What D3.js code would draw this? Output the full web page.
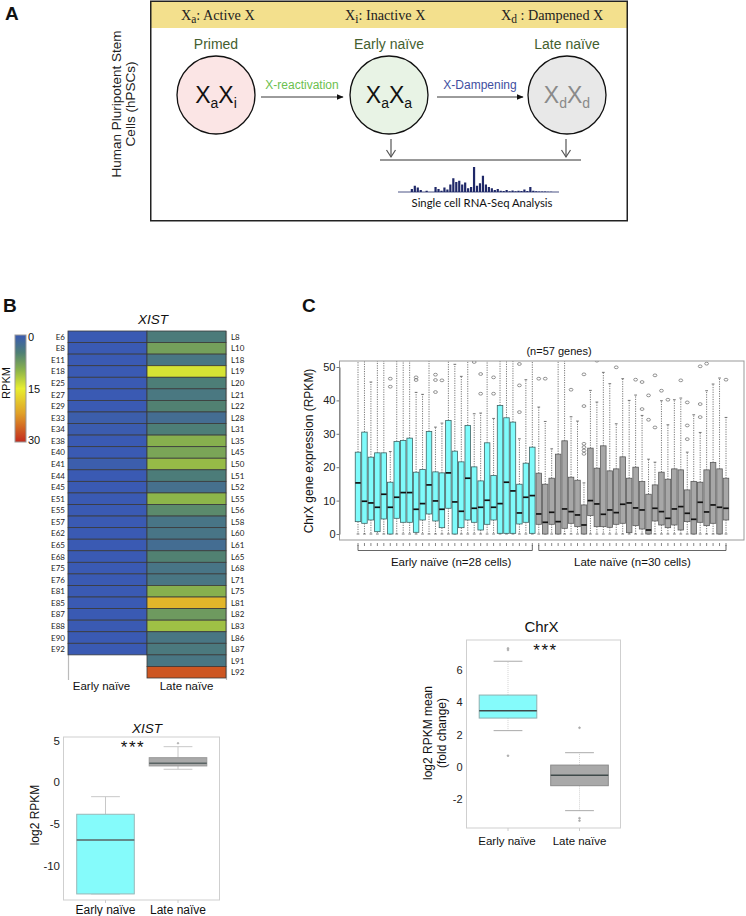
<!DOCTYPE html>
<html><head><meta charset="utf-8">
<script src="https://cdn.jsdelivr.net/npm/d3@7"></script>
<style>body{margin:0;background:#fff}svg{display:block}</style>
</head><body>
<svg id="fig" width="746" height="916" font-family="Liberation Sans, Arial, sans-serif"></svg>
<script>
// ---------------- DATA ----------------
// Panel A
const headerSubs = ["a", "i", "d"];
const headerNames = [": Active X", ": Inactive X", " : Dampened X"];
const stageNames = ["Primed", "Early naïve", "Late naïve"];
const stageSubs = [["a", "i"], ["a", "a"], ["d", "d"]];
const transitionLabels = ["X-reactivation", "X-Dampening"];
const sideLabel = ["Human Pluripotent Stem", "Cells (hPSCs)"];
const peakValues = [0,0,0,0,12,25,18,8,0,5,0,0,20,12,5,18,10,30,55,40,45,30,38,15,20,100,25,35,65,30,20,15,8,12,5,4,8,3,6,3,5,4,10,4,20,5,3,2,2,2,1,1,0,0];

// Panel B heatmap
const earlyCells = ["E6","E8","E11","E18","E25","E27","E29","E33","E34","E38","E40","E41","E44","E45","E51","E55","E57","E62","E65","E68","E75","E76","E81","E85","E87","E88","E90","E92"];
const earlyXIST = [0,0,0,0,0,0,0,0.6,0.3,0,0,0.5,0,0,0,0,0,0,0,0,0,0,0,0,0,0,0,0];
const lateCells = ["L8","L10","L18","L19","L20","L21","L22","L28","L31","L35","L45","L50","L51","L52","L55","L56","L58","L60","L61","L65","L68","L71","L75","L81","L82","L83","L86","L87","L91","L92"];
const lateXIST = [4.5,8,3.8,14,4.8,4,5.2,2.6,4.8,9.5,8.5,10.5,4.6,3,10,6,3.6,3.6,2.6,5.2,3.6,3.8,9.5,20,7.5,11,3.8,4.2,3.8,27];
const colorbarTicks = [0, 15, 30];

// Panel B XIST boxplot
const groups = ["Early naïve", "Late naïve"];
const xistLo = [-13.4, 1.56];
const xistQ1 = [-13.4, 1.96];
const xistMed = [-6.93, 2.28];
const xistQ3 = [-3.84, 2.95];
const xistHi = [-1.73, 4.27];
const xistOut = [[], [4.68]];
const xistTicks = [5, 0, -5, -10];

// Panel C per-cell boxplots (58 cells; 28 early, 30 late)
const chrxQ3 = [24.5,30.5,23,24.3,24.3,15.5,27.7,28,28.7,18.5,19.3,30.7,18.6,18.3,34,24.8,21.6,32.5,20.1,15.9,27.3,17.5,38.5,34.8,33.5,14.9,21.2,26,
                18.2,14.9,16.7,23.9,27.9,17,16.1,8.7,25.7,19.7,26.4,18.9,19.5,23.1,16.7,20,15.7,11.9,14.7,18.5,16.4,19.5,19.2,13.2,15.7,15.5,19.2,21.4,19.5,16.7];
const chrxMed = [15.3,9.8,9.3,8,11.9,8,11,12.4,12.4,7.4,9.1,14.7,9.9,7.4,18.3,9.6,6.8,16.7,7.7,8,10.1,8,9.1,15.5,12.9,6.3,11,11.5,
                 6,3.5,6.5,3.7,7.5,6.7,5.7,2.7,10,9,5.9,7.2,6.4,8.9,9.3,7.8,7.2,1.2,7.7,6.7,4.7,7.5,8.2,6.2,4.4,9.5,6.6,8.7,8,7.7];
const chrxQ1 = [3.7,3.2,4.2,0.7,4.5,0,4.7,3.5,3.5,0.5,4.2,6,3.9,1.9,7.7,0,1.9,4.2,3.5,1.2,2.9,4.2,0.2,0.2,0.2,3,3.5,0.2,
                2.9,0,2.9,0,1.7,3.2,2.2,0,5.5,2.2,2.2,2,2.9,3.2,0.4,2.5,1.5,0,3.9,2.7,1.9,2.7,1.2,3.7,0,3.5,2.5,3.2,0,4.2];
const chrxHi = [52,52,45.5,52,52,24.7,52,52,52,42.4,41.8,52,32,33.2,52,50.8,47.2,52,36,36.2,52,34.6,52,52,52,28.5,46.2,52,
                38,33.7,25.5,52,52,35.1,33.8,15.3,43,39.5,48.4,45,33,46.5,40,41.6,35.5,22.4,21.5,39.9,32.7,40.2,40.7,24.5,35.7,30.4,42.9,44.9,46.7,34.9];
const chrxLo = new Array(58).fill(0);
const chrxOut = [[],[],[],[],[],[46.5,44.1],[],[],[],[46.9,46.1],[],[],[47.7,46.1,42.5],[46],[],[],[],[],[51.5],[47.9,42],[],[46.9,42],[],[],[],[50.9,44.5,36.5],[],[],
                 [46.5],[46.5],[],[],[],[43.2],[],[47.8,38.3,27,26,25,24],[],[51.9],[],[],[49.9],[],[],[46.2],[45.5,37.4],[41.5,34.2],[47.5,31.9],[42.9],[40.2],[],[46],[39.4,32.5,28.4],[],[50.2,38.9,35],[51],[],[],[46.2]];
const chrxTicks = [0, 10, 20, 30, 40, 50];
const cellGroupLabels = ["Early naïve (n=28 cells)", "Late naïve (n=30 cells)"];
const cellGroupCounts = [28, 30];

// Panel C ChrX mean fold-change boxplot
const meanLo = [2.24, -2.73];
const meanQ1 = [3.02, -1.18];
const meanMed = [3.48, -0.53];
const meanQ3 = [4.45, 0.1];
const meanHi = [6.55, 0.87];
const meanOut = [[7.35, 7.25, 0.68], [2.42, -3.2, -3.35]];
const meanTicks = [-2, 0, 2, 4, 6];

// ---------------- DRAWING ----------------
const svg = d3.select("#fig");
svg.append("rect").attr("width", 746).attr("height", 916).attr("fill", "#fff");
const defs = svg.append("defs");
defs.append("marker").attr("id", "arrowHead").attr("viewBox", "0 0 10 10").attr("refX", 9).attr("refY", 5)
  .attr("markerWidth", 7).attr("markerHeight", 7).attr("markerUnits", "userSpaceOnUse").attr("orient", "auto")
  .append("path").attr("d", "M0,1 L10,5 L0,9 Z").attr("fill", "#111");

function panelLetter(t, x, y) {
  svg.append("text").text(t).attr("x", x).attr("y", y).attr("font-size", 19).attr("font-weight", "bold").attr("fill", "#111");
}

// ===== Panel A =====
panelLetter("A", 5, 20);
const gA = svg.append("g");
gA.append("rect").attr("x", 151).attr("y", 2).attr("width", 476).attr("height", 26).attr("fill", "#f3e08d");
gA.append("rect").attr("x", 150.75).attr("y", 1.25).attr("width", 476.5).attr("height", 219.5)
  .attr("fill", "none").attr("stroke", "#222").attr("stroke-width", 1.5);
const headerX = [181, 345, 501];
headerSubs.forEach((s, i) => {
  const t = gA.append("text").attr("x", headerX[i]).attr("y", 20).attr("font-size", 14.2)
    .attr("font-family", "Liberation Serif, DejaVu Serif, serif").attr("fill", "#222");
  t.append("tspan").text("X");
  t.append("tspan").text(s).attr("dy", 3).attr("font-size", 11.5);
  t.append("tspan").text(headerNames[i]).attr("dy", -3);
});
const stageX = [216, 389, 567], stageY = 95, stageR = 39;
const stageFill = ["#fbe5e5", "#e8f3e5", "#e8e8e8"];
const stageTextCol = ["#111", "#111", "#8a8a8a"];
stageNames.forEach((n, i) => {
  gA.append("text").text(n).attr("x", stageX[i]).attr("y", 49).attr("text-anchor", "middle")
    .attr("font-size", 14).attr("fill", "#44602f");
  gA.append("circle").attr("cx", stageX[i]).attr("cy", stageY).attr("r", stageR)
    .attr("fill", stageFill[i]).attr("stroke", "#111").attr("stroke-width", 1.3);
  const t = gA.append("text").attr("x", stageX[i]).attr("y", 103).attr("text-anchor", "middle")
    .attr("font-size", 23).attr("fill", stageTextCol[i]);
  t.append("tspan").text("X");
  t.append("tspan").text(stageSubs[i][0]).attr("dy", 5).attr("font-size", 14);
  t.append("tspan").text("X").attr("dy", -5);
  t.append("tspan").text(stageSubs[i][1]).attr("dy", 5).attr("font-size", 14);
});
const arrowX = [[261, 343], [437, 523]];
const arrowCol = ["#6cbf4f", "#3f4f9f"];
transitionLabels.forEach((l, i) => {
  gA.append("line").attr("x1", arrowX[i][0]).attr("x2", arrowX[i][1]).attr("y1", 97).attr("y2", 97)
    .attr("stroke", "#222").attr("stroke-width", 0.9).attr("marker-end", "url(#arrowHead)");
  gA.append("text").text(l).attr("x", (arrowX[i][0] + arrowX[i][1]) / 2).attr("y", 89)
    .attr("text-anchor", "middle").attr("font-size", 12).attr("fill", arrowCol[i]);
});
[391, 566].forEach(x => {
  gA.append("line").attr("x1", x).attr("x2", x).attr("y1", 139).attr("y2", 157).attr("stroke", "#555").attr("stroke-width", 1.2);
  gA.append("path").attr("d", `M${x - 4.5},${150} L${x},${157} L${x + 4.5},${150}`).attr("fill", "none").attr("stroke", "#555").attr("stroke-width", 1.2);
});
gA.append("line").attr("x1", 380).attr("x2", 581).attr("y1", 160).attr("y2", 160).attr("stroke", "#333").attr("stroke-width", 1);
const px = d3.scaleLinear().domain([0, peakValues.length - 1]).range([400, 557]);
const ph = d3.scaleLinear().domain([0, 100]).range([192, 167]);
gA.selectAll(".pk").data(peakValues).join("rect")
  .attr("x", (d, i) => px(i) - 1.1).attr("width", 2.2).attr("y", d => ph(d)).attr("height", d => 192 - ph(d))
  .attr("fill", "#1f2868");
gA.append("line").attr("x1", 398).attr("x2", 559).attr("y1", 192).attr("y2", 192).attr("stroke", "#1f2868").attr("stroke-width", 0.8);
gA.append("text").text("Single cell RNA-Seq Analysis").attr("x", 482).attr("y", 207).attr("text-anchor", "middle")
  .attr("font-size", 11.3).attr("font-family", "Lato, sans-serif").attr("fill", "#111");
const sideX = [120.5, 135];
sideLabel.forEach((s, i) => {
  gA.append("text").text(s).attr("transform", `translate(${sideX[i]},104) rotate(-90)`).attr("text-anchor", "middle")
    .attr("font-size", 13.5).attr("fill", "#222");
});

// ===== Panel B heatmap =====
panelLetter("B", 3, 312);
const gB = svg.append("g");
const heatColor = d3.scaleLinear().domain([0, 5, 10, 15, 22, 30])
  .range(["#3a5ab3", "#4e7f74", "#8db54a", "#e8ee30", "#e0a028", "#c22a1e"]);
gB.append("text").text("XIST").attr("x", 153).attr("y", 324).attr("text-anchor", "middle")
  .attr("font-size", 13.5).attr("font-style", "italic").attr("fill", "#111");
const rowY = d3.scaleBand().domain(d3.range(30)).range([331, 678]);
const colX = d3.scaleBand().domain(groups).range([68, 226]);
gB.append("line").attr("x1", 68.5).attr("x2", 68.5).attr("y1", 331).attr("y2", 680).attr("stroke", "#bbb").attr("stroke-width", 1.2);
gB.append("line").attr("x1", 226.5).attr("x2", 226.5).attr("y1", 331).attr("y2", 680).attr("stroke", "#bbb").attr("stroke-width", 1.2);
gB.selectAll(".ec").data(earlyXIST).join("rect")
  .attr("x", colX(groups[0])).attr("y", (d, i) => rowY(i)).attr("width", colX.bandwidth()).attr("height", rowY.bandwidth())
  .attr("fill", d => heatColor(d)).attr("stroke", "#3a3a3a").attr("stroke-width", 0.8);
gB.selectAll(".lc").data(lateXIST).join("rect")
  .attr("x", colX(groups[1])).attr("y", (d, i) => rowY(i)).attr("width", colX.bandwidth()).attr("height", rowY.bandwidth())
  .attr("fill", d => heatColor(d)).attr("stroke", "#3a3a3a").attr("stroke-width", 0.8);
gB.selectAll(".el").data(earlyCells).join("text").text(d => d)
  .attr("x", 65).attr("y", (d, i) => rowY(i) + rowY.bandwidth() / 2 + 3).attr("text-anchor", "end")
  .attr("font-size", 8).attr("font-family", "Lato, sans-serif").attr("fill", "#222");
gB.selectAll(".ll").data(lateCells).join("text").text(d => d)
  .attr("x", 231).attr("y", (d, i) => rowY(i) + rowY.bandwidth() / 2 + 3)
  .attr("font-size", 8).attr("font-family", "Lato, sans-serif").attr("fill", "#222");
groups.forEach(g => {
  gB.append("text").text(g).attr("x", colX(g) + colX.bandwidth() / 2 - (g === groups[0] ? 6 : 0)).attr("y", 690)
    .attr("text-anchor", "middle").attr("font-size", 11.5).attr("fill", "#111");
});
// colorbar
const grad = defs.append("linearGradient").attr("id", "cbar").attr("x1", 0).attr("x2", 0).attr("y1", 0).attr("y2", 1);
d3.range(0, 31, 1).forEach(v => grad.append("stop").attr("offset", v / 30).attr("stop-color", heatColor(v)));
const cbY = d3.scaleLinear().domain([0, 30]).range([337, 440]);
gB.append("rect").attr("x", 15).attr("y", 335).attr("width", 11).attr("height", 107).attr("fill", "url(#cbar)")
  .attr("stroke", "#999").attr("stroke-width", 1);
colorbarTicks.forEach(t => {
  gB.append("text").text(t).attr("x", 28).attr("y", cbY(t) + 4).attr("font-size", 11).attr("fill", "#111");
});
gB.append("text").text("RPKM").attr("transform", "translate(10,383) rotate(-90)").attr("text-anchor", "middle")
  .attr("font-size", 11).attr("fill", "#111");

// generic group boxplot
function drawBox(g, cx, w, lo, q1, med, q3, hi, outs, y, st) {
  g.append("line").attr("x1", cx).attr("x2", cx).attr("y1", y(q3)).attr("y2", y(hi))
    .attr("stroke", st.wh).attr("stroke-width", st.whw).attr("stroke-dasharray", st.dash);
  g.append("line").attr("x1", cx).attr("x2", cx).attr("y1", y(q1)).attr("y2", y(lo))
    .attr("stroke", st.wh).attr("stroke-width", st.whw).attr("stroke-dasharray", st.dash);
  [hi, lo].forEach(v => g.append("line").attr("x1", cx - w * st.cap / 2).attr("x2", cx + w * st.cap / 2)
    .attr("y1", y(v)).attr("y2", y(v)).attr("stroke", st.capc).attr("stroke-width", st.capw));
  g.append("rect").attr("x", cx - w / 2).attr("y", y(q3)).attr("width", w).attr("height", Math.max(0.5, y(q1) - y(q3)))
    .attr("fill", st.fill).attr("stroke", st.stroke).attr("stroke-width", st.sw);
  g.append("line").attr("x1", cx - w / 2).attr("x2", cx + w / 2).attr("y1", y(med)).attr("y2", y(med))
    .attr("stroke", st.med).attr("stroke-width", st.medw);
  outs.forEach(o => g.append("ellipse").attr("cx", cx).attr("cy", y(o)).attr("rx", st.orx).attr("ry", st.ory)
    .attr("fill", st.ofill).attr("stroke", st.ostroke).attr("stroke-width", 0.7));
}

// ===== Panel B XIST boxplot =====
const gB2 = svg.append("g");
const yX = d3.scaleLinear().domain([-10, 5]).range([865.6, 740.6]);
const xX = d3.scalePoint().domain(groups).range([105.5, 178]);
gB2.append("text").text("XIST").attr("x", 147).attr("y", 733).attr("text-anchor", "middle")
  .attr("font-size", 13.5).attr("font-style", "italic").attr("fill", "#111");
gB2.append("rect").attr("x", 63.5).attr("y", 737).attr("width", 156).attr("height", 163)
  .attr("fill", "none").attr("stroke", "#cfcfcf").attr("stroke-width", 1);
xistTicks.forEach(t => gB2.append("text").text(t).attr("x", 60).attr("y", yX(t) + 4).attr("text-anchor", "end")
  .attr("font-size", 11.5).attr("fill", "#222"));
groups.forEach((g, i) => {
  gB2.append("line").attr("x1", xX(g)).attr("x2", xX(g)).attr("y1", 900).attr("y2", 903).attr("stroke", "#ccc");
  gB2.append("text").text(g).attr("x", xX(g)).attr("y", 914).attr("text-anchor", "middle").attr("font-size", 12).attr("fill", "#111");
  drawBox(gB2, xX(g), 57.6, xistLo[i], xistQ1[i], xistMed[i], xistQ3[i], xistHi[i], xistOut[i], yX,
    {wh: "#c8c8c8", whw: 1, dash: null, cap: 0.5, capc: "#c8c8c8", capw: 1,
     fill: i === 0 ? "#85fbfb" : "#a9a9a9", stroke: i === 0 ? "#99b8b8" : "#999", sw: 1,
     med: "#5a6464", medw: 1.3, orx: 0.8, ory: 0.8, ofill: "#aaa", ostroke: "#aaa"});
});
gB2.append("text").text("***").attr("x", 133).attr("y", 753).attr("text-anchor", "middle").attr("font-size", 17)
  .attr("letter-spacing", 1.5).attr("fill", "#111");
gB2.append("text").text("log2 RPKM").attr("transform", "translate(39,815) rotate(-90)").attr("text-anchor", "middle")
  .attr("font-size", 12).attr("fill", "#111");

// ===== Panel C per-cell boxplots =====
panelLetter("C", 302, 312);
const gC = svg.append("g");
const yC = d3.scaleLinear().domain([0, 50]).range([534, 367]);
const xC = d3.scaleLinear().domain([0, 57]).range([358, 726]);
defs.append("clipPath").attr("id", "clipC").append("rect").attr("x", 339).attr("y", 361).attr("width", 405).attr("height", 179);
gC.append("text").text("(n=57 genes)").attr("x", 559).attr("y", 355).attr("text-anchor", "middle").attr("font-size", 11).attr("fill", "#111");
const plotC = gC.append("g").attr("clip-path", "url(#clipC)");
chrxMed.forEach((m, i) => {
  const early = i < cellGroupCounts[0];
  drawBox(plotC, xC(i), 5.5, chrxLo[i], chrxQ1[i], m, chrxQ3[i], chrxHi[i], chrxOut[i], yC,
    {wh: "#555", whw: 0.8, dash: "1.2,1.2", cap: 0.5, capc: "#555", capw: 0.8,
     fill: early ? "#7ffbfb" : "#a7a7a7", stroke: early ? "#3f6363" : "#5a5a5a", sw: 0.8,
     med: "#111", medw: 1.7, orx: 1.9, ory: 1.4, ofill: "none", ostroke: "#666"});
});
gC.append("rect").attr("x", 339.5).attr("y", 361).attr("width", 404.5).attr("height", 179)
  .attr("fill", "none").attr("stroke", "#999").attr("stroke-width", 1);
const axC = gC.append("g").attr("transform", "translate(339.5,0)")
  .call(d3.axisLeft(yC).tickValues(chrxTicks).tickSize(3).tickSizeOuter(0));
axC.attr("font-family", null);
axC.select(".domain").attr("stroke", "#777");
axC.selectAll(".tick line").attr("stroke", "#777");
axC.selectAll("text").attr("font-size", 11).attr("fill", "#222").attr("x", -4);
gC.append("text").text("ChrX gene expression (RPKM)").attr("transform", "translate(313,451) rotate(-90)")
  .attr("text-anchor", "middle").attr("font-size", 12).attr("fill", "#111");
// ticks under each box
chrxMed.forEach((m, i) => gC.append("line").attr("x1", xC(i)).attr("x2", xC(i)).attr("y1", 543).attr("y2", 546)
  .attr("stroke", "#666").attr("stroke-width", 0.8));
// group brackets
let start = 0;
cellGroupCounts.forEach((n, gi) => {
  const a = xC(start), b = xC(start + n - 1);
  gC.append("path").attr("d", `M${a},545 L${a},550.5 L${b},550.5 L${b},545`).attr("fill", "none")
    .attr("stroke", "#555").attr("stroke-width", 0.9);
  gC.append("text").text(cellGroupLabels[gi]).attr("x", (a + b) / 2 + (gi === 0 ? 6 : 0)).attr("y", 566)
    .attr("text-anchor", "middle").attr("font-size", 11.5).attr("fill", "#111");
  start += n;
});

// ===== Panel C ChrX mean boxplot =====
const gC2 = svg.append("g");
const yM = d3.scaleLinear().domain([-2, 6]).range([798.9, 670.1]);
const xM = d3.scalePoint().domain(groups).range([508, 579.5]);
gC2.append("text").text("ChrX").attr("x", 541.5).attr("y", 632).attr("text-anchor", "middle").attr("font-size", 15).attr("fill", "#111");
gC2.append("rect").attr("x", 466.5).attr("y", 640).attr("width", 154).attr("height", 188)
  .attr("fill", "none").attr("stroke", "#cfcfcf").attr("stroke-width", 1);
meanTicks.forEach(t => gC2.append("text").text(t).attr("x", 462.5).attr("y", yM(t) + 4).attr("text-anchor", "end")
  .attr("font-size", 11).attr("fill", "#222"));
groups.forEach((g, i) => {
  gC2.append("line").attr("x1", xM(g)).attr("x2", xM(g)).attr("y1", 828).attr("y2", 831).attr("stroke", "#ccc");
  gC2.append("text").text(g).attr("x", xM(g) - (i === 0 ? 1 : 0)).attr("y", 845).attr("text-anchor", "middle").attr("font-size", 11.5).attr("fill", "#111");
  drawBox(gC2, xM(g), 57.6, meanLo[i], meanQ1[i], meanMed[i], meanQ3[i], meanHi[i], meanOut[i], yM,
    {wh: "#c8c8c8", whw: 0.8, dash: "1,1", cap: 0.5, capc: "#aaa", capw: 1,
     fill: i === 0 ? "#85fbfb" : "#a9a9a9", stroke: i === 0 ? "#8fb0b0" : "#8a8a8a", sw: 1,
     med: "#3f4a4a", medw: 1.5, orx: 0.9, ory: 0.9, ofill: "#aaa", ostroke: "#aaa"});
});
gC2.append("text").text("***").attr("x", 545.5).attr("y", 656).attr("text-anchor", "middle").attr("font-size", 17)
  .attr("letter-spacing", 1.5).attr("fill", "#111");
gC2.append("text").attr("transform", "translate(432,733) rotate(-90)").attr("text-anchor", "middle")
  .attr("font-size", 12).attr("fill", "#111").text("log2 RPKM mean");
gC2.append("text").attr("transform", "translate(445.5,733) rotate(-90)").attr("text-anchor", "middle")
  .attr("font-size", 12).attr("fill", "#111").text("(fold change)");
</script></body></html>
